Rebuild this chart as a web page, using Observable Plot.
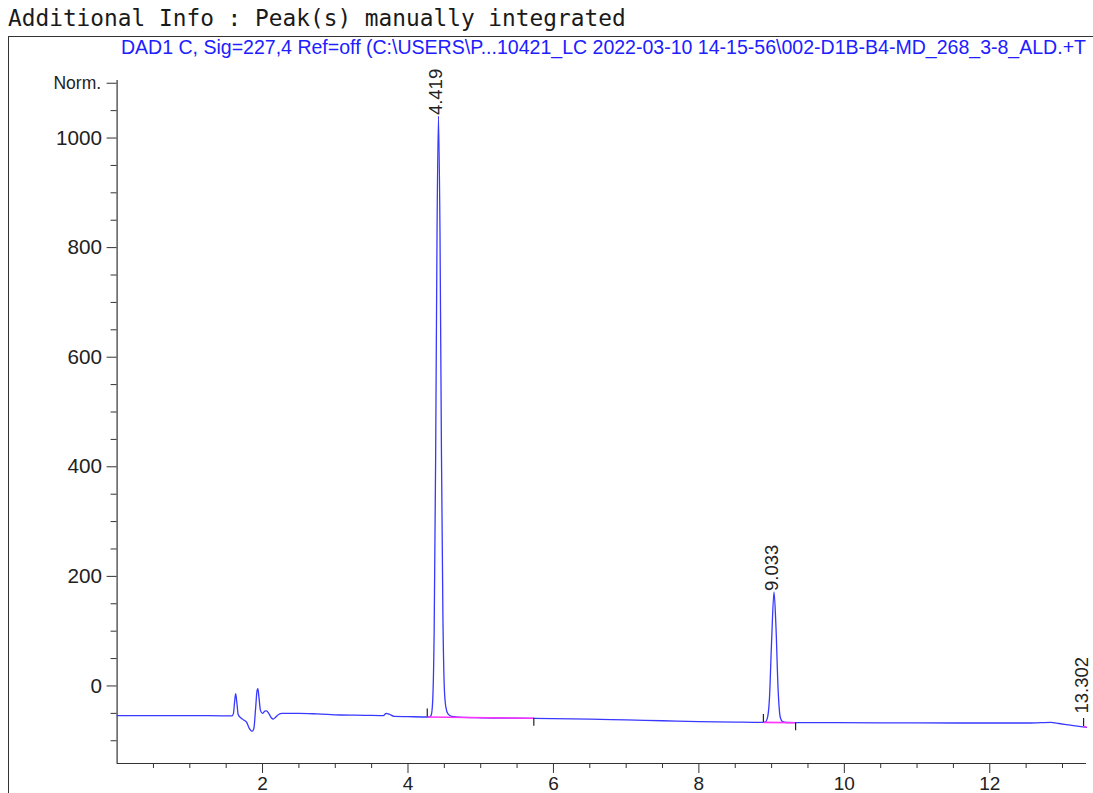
<!DOCTYPE html>
<html><head><meta charset="utf-8">
<script src="https://cdn.jsdelivr.net/npm/d3@7"></script>
<script src="https://cdn.jsdelivr.net/npm/@observablehq/plot@0.6"></script>
<style>
html,body{margin:0;padding:0;background:#fff;}
#page{position:relative;width:1093px;height:793px;overflow:hidden;background:#fff;}
#title{position:absolute;left:8px;top:7px;font-family:"DejaVu Sans Mono",monospace;font-size:22.8px;color:#1a1a1a;white-space:pre;line-height:1;}
#box{position:absolute;left:8px;top:36px;width:1100px;height:800px;border-left:1.5px solid #333;border-top:1.5px solid #333;}
#subtitle{position:absolute;right:7px;top:38px;font-family:"Liberation Sans",Arial,sans-serif;font-size:19.55px;color:#2020ff;white-space:pre;line-height:1;}
#chart{position:absolute;left:0;top:60px;}
</style></head>
<body><div id="page"><div id="title"></div><div id="box"></div><div id="subtitle"></div><div id="chart"></div></div>
<script>
const titleText = "Additional Info : Peak(s) manually integrated";
const subtitleText = "DAD1 C, Sig=227,4 Ref=off (C:\\USERS\\P...10421_LC 2022-03-10 14-15-56\\002-D1B-B4-MD_268_3-8_ALD.+T";

// chromatogram trace: retention time (min) and signal (Norm.)
const traceTime = [0, 0.5, 1.0, 1.5, 1.58, 1.60, 1.615, 1.63, 1.645, 1.665, 1.70, 1.74, 1.78, 1.82, 1.855, 1.88, 1.905, 1.925, 1.936, 1.95, 1.972, 2.0, 2.03, 2.055, 2.085, 2.12, 2.147, 2.18, 2.22, 2.27, 2.5, 2.75, 3.07, 3.4, 3.66, 3.70, 3.74, 3.81, 4.0, 4.27, 4.30, 4.32, 4.34, 4.36, 4.38, 4.40, 4.419, 4.44, 4.46, 4.48, 4.50, 4.52, 4.55, 4.60, 4.70, 5.0, 5.73, 6.5, 7.0, 7.5, 8.0, 8.5, 8.88, 8.91, 8.94, 8.97, 9.0, 9.033, 9.06, 9.09, 9.12, 9.15, 9.2, 9.33, 9.8, 10.5, 11.0, 12.0, 12.5, 12.7, 12.84, 12.95, 13.05, 13.15, 13.25, 13.33];
const traceSignal = [-54, -54, -54, -54.5, -54.5, -50, -30, -14, -28, -52, -58, -62, -66, -78, -83, -78, -40, -8, -5, -20, -45, -50, -46, -45.5, -50, -58, -60.5, -57, -52, -50, -50, -51, -53, -53.5, -54, -50, -51.5, -55.5, -56, -56.6, -56.5, -53, -26, 102, 414, 840, 1040, 827, 426, 130, -5, -38, -51, -55.5, -56.8, -58, -59, -60.5, -62, -63.5, -65, -66, -66.5, -66, -59.5, -23.5, 82, 171.5, 107.5, -8.5, -57.5, -65, -66.7, -67, -67, -67.3, -67.5, -67.6, -67.6, -67, -66.5, -68.5, -70.5, -72.5, -74.3, -75.5];

// integration baselines
const intStartTime = [4.265, 8.887, 13.29];
const intStartValue = [-56.6, -66.5, -74];
const intEndTime = [5.73, 9.33, 13.33];
const intEndValue = [-59, -67, -75.5];

// peak labels
const peakRT = [4.419, 9.033, 13.302];
const peakApex = [1040, 171.5, -52];
const peakLabels = ["4.419", "9.033", "13.302"];

// axes
const xDomain = [0, 13.33];
const yDomain = [-141.5, 1105];
const xMajorTicks = [2, 4, 6, 8, 10, 12];
const xMinorTicks = [0.5,1,1.5,2.5,3,3.5,4.5,5,5.5,6.5,7,7.5,8.5,9,9.5,10.5,11,11.5,12.5,13];
const yMajorTicks = [0, 200, 400, 600, 800, 1000];
const yMinorTicks = [-100,-50,50,100,150,250,300,350,450,500,550,650,700,750,850,900,950,1050];
const yUnitTick = [1100];
const yUnitLabel = "Norm.";

document.getElementById("title").textContent = titleText;
document.getElementById("subtitle").textContent = subtitleText;

const trace = traceTime.map((t, i) => ({t, v: traceSignal[i]}));
const integ = intStartTime.map((t, i) => ({t1: t, v1: intStartValue[i], t2: intEndTime[i], v2: intEndValue[i]}));
const starts = intStartTime.map((t, i) => ({t, v: intStartValue[i]}));
const ends = intEndTime.slice(0, 2).map((t, i) => ({t, v: intEndValue[i]}));
const peaks = peakRT.map((t, i) => ({t, v: peakApex[i], label: peakLabels[i]}));

const unitPerPx = (yDomain[1] - yDomain[0]) / (763 - 80);

const plot = Plot.plot({
  width: 1093,
  height: 733,
  marginLeft: 116.6,
  marginRight: 7,
  marginTop: 20,
  marginBottom: 30,
  style: {fontFamily: "'Liberation Sans', Arial, sans-serif", color: "#222", background: "transparent"},
  x: {domain: xDomain, axis: null},
  y: {domain: yDomain, axis: null},
  marks: [
    Plot.axisY({ticks: yMinorTicks, tickSize: 6, tickFormat: () => "", label: null, stroke: "#333"}),
    Plot.axisY({ticks: yMajorTicks, tickSize: 10, tickPadding: 5, fontSize: 20.7, label: null, tickFormat: d => String(d), stroke: "#333"}),
    Plot.axisY({ticks: yUnitTick, tickSize: 10, tickPadding: 6, fontSize: 17.5, label: null, tickFormat: () => yUnitLabel, stroke: "#333"}),
    Plot.axisX({ticks: xMinorTicks, tickSize: 5, tickFormat: () => "", label: null, stroke: "#333"}),
    Plot.axisX({ticks: xMajorTicks, tickSize: 10, tickPadding: 3, fontSize: 19, label: null, fontFamily: "'Liberation Sans Narrow', 'Liberation Sans', sans-serif", stroke: "#333"}),
    Plot.ruleX([xDomain[0]], {stroke: "#333", strokeWidth: 1.2}),
    Plot.ruleY([yDomain[0]], {stroke: "#333", strokeWidth: 1.2}),
    Plot.line(trace, {x: "t", y: "v", stroke: "#3838ff", strokeWidth: 1.3, curve: "monotone-x"}),
    Plot.link(integ, {x1: "t1", y1: "v1", x2: "t2", y2: "v2", stroke: "#ff33ff", strokeWidth: 1.6}),
    Plot.ruleX(starts, {x: "t", y1: "v", y2: d => d.v + 8 * unitPerPx, stroke: "#222", strokeWidth: 1.2}),
    Plot.ruleX(ends, {x: "t", y1: d => d.v - 8 * unitPerPx, y2: "v", stroke: "#222", strokeWidth: 1.2}),
    Plot.text(peaks, {x: "t", y: "v", text: "label", rotate: -90, textAnchor: "start", dx: -2, dy: -1, fontSize: 18.5, fill: "#222"})
  ]
});
document.getElementById("chart").appendChild(plot);
</script>
</body></html>
